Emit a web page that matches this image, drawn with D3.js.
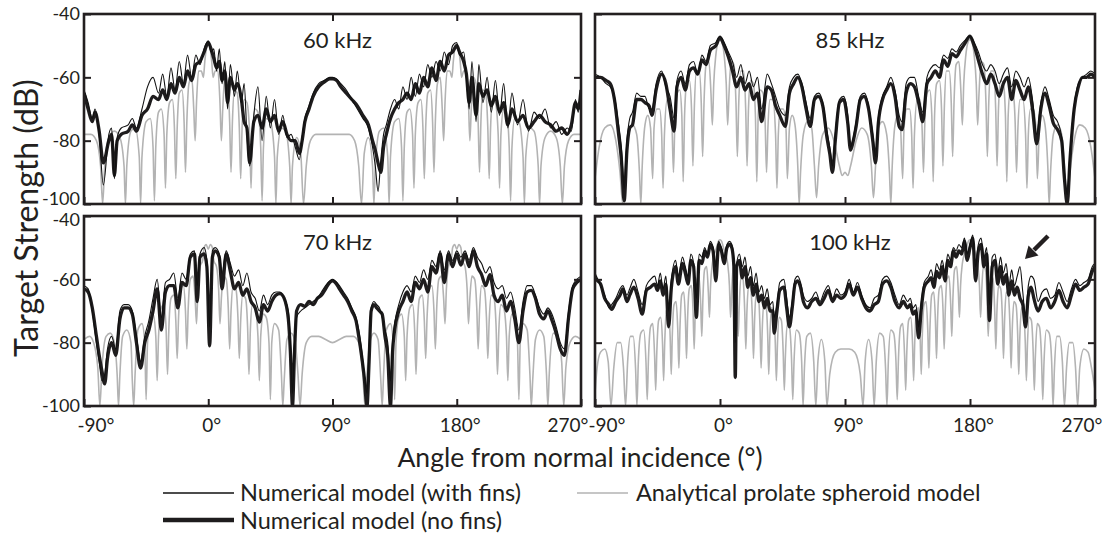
<!DOCTYPE html>
<html><head><meta charset="utf-8">
<script src="https://cdn.jsdelivr.net/npm/d3@7"></script>
<style>body{margin:0;background:#fff;}</style>
</head><body><svg id="c" width="1107" height="537"></svg>
<script>
// ---------------- DATA ----------------
const xTickValues = [-90, 0, 90, 180, 270];
const xTickLabels = ["-90°", "0°", "90°", "180°", "270°"];
const yTickValues = [-40, -60, -80, -100];
const panelTitles = ["60 kHz", "85 kHz", "70 kHz", "100 kHz"];
const legendLabels = ["Numerical model (with fins)", "Numerical model (no fins)", "Analytical prolate spheroid model"];
const xTitle = "Angle from normal incidence (°)";
const yTitle = "Target Strength (dB)";

// 60 kHz
const a60 = [-90,-87,-84,-82,-79,-76,-72,-70,-68,-66,
 -63,-58,-55,-52,-48,-44,-40,-36,-33,-30,
 -27,-24,-21,-18,-15,-12,-9,-6,-3,0,
 2,4,6,8,10,12,14,16,19,21,
 24,26,28,30,33,36,39,42,45,48,
 51,54,57,60,63,66,68,70,73,76,
 80,84,88,90,93,96,100,104,108,112,
 116,119,121,123,125,127,129,132,135,138,
 141,144,147,150,153,156,159,162,165,168,
 171,174,177,180,182,185,187,189,191,194,
 196,199,202,205,208,211,214,217,220,224,
 228,232,236,240,244,248,252,256,260,263,
 266,268,270];
const thick60 = [-65,-70,-74,-71,-77,-87,-80,-78,-91,-80,
 -78,-77,-75,-77,-72,-70,-66,-67,-64,-67,
 -62,-65,-60,-63,-58,-61,-56,-55,-52,-49,
 -51,-54,-57,-55,-61,-58,-68,-60,-64,-62,
 -67,-74,-76,-87,-74,-72,-76,-70,-74,-72,
 -77,-74,-78,-80,-80,-84,-80,-74,-70,-66,
 -63,-61.5,-60.5,-60.5,-61,-63,-65,-67,-69,-72,
 -75,-80,-83,-87,-90,-82,-78,-73,-70,-68,
 -67,-65,-67,-62,-65,-60,-63,-57,-61,-55,
 -58,-53,-52,-50,-52,-55,-59,-68,-60,-72,
 -62,-66,-64,-69,-66,-71,-68,-75,-70,-74,
 -72,-76,-74,-72,-74,-75,-77,-76,-78,-75,
 -68,-70,-64];
const thin60 = [-64,-68,-73,-70,-78,-94,-78,-76,-92,-79,
 -76,-75,-73,-76,-70,-63,-60,-65,-59,-66,
 -57,-64,-55,-62,-53,-60,-53,-56,-51,-48.5,
 -52,-51,-58,-51,-62,-55,-70,-56,-66,-58,
 -68,-62,-78,-88,-72,-63,-80,-66,-76,-67,
 -78,-72,-79,-78,-82,-86,-79,-73,-69,-65,
 -62,-61,-60,-60,-60.5,-62,-64,-67,-70,-73,
 -76,-82,-88,-96,-86,-78,-75,-70,-67,-70,
 -63,-67,-60,-66,-59,-63,-56,-60,-55,-58,
 -52,-56,-50,-49,-53,-52,-60,-70,-55,-74,
 -56,-68,-60,-71,-61,-72,-62,-76,-65,-75,
 -67,-77,-71,-73,-70,-76,-74,-78,-76,-77,
 -67,-71,-63];
const gray60 = [[-90,-78],[-85,-78],[-81,-80],[-78,-88],[-76.5,-100],[-75,-88],[-72,-79],[-68,-77],[-64,-79],[-61,-88],[-60,-100],[-59,-88],[-56,-77],[-53,-76],[-50,-85],[-49,-100],[-48,-85],[-45,-74],[-42,-73],[-40,-82],[-39,-99],[-38,-82],[-36,-71],[-34,-70],[-32,-78],[-31,-95],[-30,-78],[-28,-68],[-26,-67],[-24.5,-76],[-23.5,-92],[-22.5,-76],[-21,-65],[-19,-64],[-17.5,-74],[-16.5,-90],[-15.5,-74],[-14,-62],[-12,-60],[-10.5,-70],[-9.5,-80],[-8.5,-68],[-7,-58],[-5,-58],[-3.5,-60],[-2.5,-55],[-1,-50],[0,-49.5],[1,-50],[2.5,-55],[3.5,-60],[5,-58],[7,-58],[8.5,-68],[9.5,-80],[10.5,-70],[12,-60],[14,-62],[15.5,-74],[16.5,-90],[17.5,-74],[19,-64],[21,-65],[22.5,-76],[23.5,-92],[24.5,-76],[26,-67],[28,-68],[30,-78],[31,-95],[32,-78],[34,-70],[36,-71],[38,-82],[39,-99],[40,-82],[42,-73],[45,-74],[48,-85],[49,-100],[50,-85],[53,-76],[56,-77],[59,-88],[60,-100],[61,-88],[64,-79],[67,-84],[69,-100],[71,-88],[74,-80],[78,-78],[90,-78],[102,-78],[106,-80],[109,-88],[111,-100],[113,-84],[116,-79],[119,-88],[120,-100],[121,-88],[124,-77],[127,-76],[130,-85],[131,-100],[132,-85],[135,-74],[138,-73],[140,-82],[141,-99],[142,-82],[144,-71],[146,-70],[148,-78],[149,-95],[150,-78],[152,-68],[154,-67],[155.5,-76],[156.5,-92],[157.5,-76],[159,-65],[161,-64],[162.5,-74],[163.5,-90],[164.5,-74],[166,-62],[168,-60],[169.5,-70],[170.5,-80],[171.5,-68],[173,-58],[175,-58],[176.5,-60],[177.5,-55],[179,-50],[180,-49.5],[181,-50],[182.5,-55],[183.5,-60],[185,-58],[187,-58],[188.5,-68],[189.5,-80],[190.5,-70],[192,-60],[194,-62],[195.5,-74],[196.5,-90],[197.5,-74],[199,-64],[201,-65],[202.5,-76],[203.5,-92],[204.5,-76],[206,-67],[208,-68],[210,-78],[211,-95],[212,-78],[214,-70],[216,-71],[218,-82],[219,-99],[220,-82],[222,-73],[225,-74],[228,-85],[229,-100],[230,-85],[233,-76],[236,-77],[239,-88],[240,-100],[241,-88],[244,-79],[248,-77],[252,-79],[255,-88],[256.5,-100],[258,-88],[261,-80],[265,-78],[270,-78]];

// 85 kHz
const a85 = [-90,-86,-82,-79,-76,-73,-71,-69,-67,-65,
 -63,-60,-57,-54,-51,-49,-46,-42,-39,-36,
 -33,-31,-28,-25,-22,-19,-16,-13,-10,-7,
 -3,0,3,6,9,12,15,18,21,24,
 27,30,34,37,40,43,47,50,53,56,
 59,62,65,68,71,74,77,79,81,83,
 86,89,92,94,96,98,101,104,107,110,
 112,114,117,120,123,126,129,131,134,137,
 140,143,146,149,152,155,158,161,164,167,
 170,173,176,180,183,186,189,192,195,198,
 201,204,207,210,213,216,219,222,225,228,
 231,234,237,240,243,246,248,250,252,255,
 258,261,264,267,270];
const thick85 = [-60,-60,-61,-62,-67,-78,-86,-99,-83,-76,
 -75,-67,-67,-68,-69,-72,-64,-59,-62,-70,
 -77,-63,-60,-64,-58,-57,-59,-54.5,-56,-51.5,
 -50,-47.5,-50,-53.5,-58,-63,-60,-64,-62,-67,
 -65,-74,-63,-64,-69,-72,-75.5,-65,-62,-60,
 -63,-70,-75.5,-67,-66,-69,-79,-84,-90,-80,
 -68,-67,-74.5,-83,-80,-75.5,-67,-66,-70,-80,
 -87,-74.5,-67,-64,-62,-66,-75.5,-76.5,-65,-62,
 -63,-68,-74,-62,-60,-58,-60,-54.5,-56.5,-52.5,
 -53.5,-51.5,-49.5,-47,-50,-54.5,-59,-62,-59,-62,
 -66,-62,-60,-67,-61,-64,-67,-63,-70,-81,
 -70,-65,-69,-74.5,-76.5,-80,-92,-100,-86,-70,
 -63,-60,-60,-59,-60];
const thin85 = [-59,-60,-62,-63,-66,-75,-82,-95,-80,-73,
 -71,-65,-66,-66,-70,-70,-62,-58,-63,-66,
 -73,-61,-58,-62,-56,-55,-59,-53,-55,-50,
 -49,-47,-49,-52,-55,-60,-56,-62,-58,-63,
 -60,-70,-59,-62,-66,-70,-72,-63,-60,-59,
 -62,-68,-73,-66,-65,-68,-77,-82,-88,-78,
 -67,-66,-72,-82,-79,-74,-66,-65,-69,-78,
 -85,-73,-66,-63,-60,-64,-72,-74,-62,-60,
 -60,-66,-71,-60,-57,-56,-57,-53,-54,-51,
 -52,-50,-48.5,-47,-49,-52,-56,-58,-56,-58,
 -62,-59,-57,-63,-58,-60,-63,-60,-67,-78,
 -68,-63,-67,-72,-74,-79,-90,-97,-84,-69,
 -62,-60,-59,-58,-59];
const gray85 = [[-90,-92],[-87,-82],[-83,-76],[-79,-75],[-75,-80],[-72,-90],[-70,-100],[-68,-88],[-66,-78],[-63,-75],[-60,-78],[-58,-90],[-57,-100],[-56,-88],[-54,-75],[-52,-72],[-50,-76],[-48.5,-92],[-47.5,-76],[-45.5,-70],[-43.5,-70],[-42,-78],[-41,-95],[-40,-78],[-38,-67],[-36,-67],[-34.5,-76],[-33.5,-90],[-32.5,-74],[-31,-65],[-29,-64],[-27.5,-72],[-26.5,-93],[-25.5,-72],[-24,-62],[-22,-61],[-20.5,-70],[-19.5,-88],[-18.5,-70],[-17,-58],[-15,-58],[-13.5,-68],[-12.5,-85],[-11.5,-68],[-10,-56],[-8,-55],[-6.5,-65],[-5.5,-75],[-4.5,-62],[-3,-53],[-1.5,-49],[0,-48],[1.5,-49],[3,-53],[4.5,-62],[5.5,-75],[6.5,-65],[8,-55],[10,-56],[11.5,-68],[12.5,-85],[13.5,-68],[15,-58],[17,-58],[18.5,-70],[19.5,-88],[20.5,-70],[22,-61],[24,-62],[25.5,-72],[26.5,-93],[27.5,-72],[29,-64],[31,-65],[32.5,-74],[33.5,-90],[34.5,-76],[36,-67],[38,-67],[40,-78],[41,-95],[42,-78],[43.5,-70],[45.5,-70],[47.5,-76],[48.5,-92],[50,-76],[52,-72],[54,-75],[56,-88],[57,-100],[58,-90],[60,-78],[63,-74],[66,-76],[68,-88],[69.5,-98],[71,-88],[74,-78],[78,-76],[82,-80],[86,-88],[88,-91],[90,-90],[92,-91],[94,-88],[98,-80],[102,-76],[106,-78],[109,-88],[110.5,-98],[112,-88],[114,-76],[117,-74],[120,-78],[122,-90],[123,-100],[124,-88],[126,-75],[128,-72],[130,-76],[131.5,-92],[132.5,-76],[134.5,-70],[136.5,-70],[138,-78],[139,-95],[140,-78],[142,-67],[144,-67],[145.5,-76],[146.5,-90],[147.5,-74],[149,-65],[151,-64],[152.5,-72],[153.5,-93],[154.5,-72],[156,-62],[158,-61],[159.5,-70],[160.5,-88],[161.5,-70],[163,-58],[165,-58],[166.5,-68],[167.5,-85],[168.5,-68],[170,-56],[172,-55],[173.5,-65],[174.5,-75],[175.5,-62],[177,-53],[178.5,-49],[180,-48],[181.5,-49],[183,-53],[184.5,-62],[185.5,-75],[186.5,-65],[188,-55],[190,-56],[191.5,-68],[192.5,-85],[193.5,-68],[195,-58],[197,-58],[198.5,-70],[199.5,-88],[200.5,-70],[202,-61],[204,-62],[205.5,-72],[206.5,-93],[207.5,-72],[209,-64],[211,-65],[212.5,-74],[213.5,-90],[214.5,-76],[216,-67],[218,-67],[220,-78],[221,-95],[222,-78],[223.5,-70],[225.5,-70],[227.5,-76],[228.5,-92],[230,-76],[232,-72],[234,-75],[236,-88],[237,-100],[238,-90],[240,-78],[243,-75],[246,-78],[248,-88],[250,-100],[252,-90],[255,-80],[259,-75],[263,-76],[267,-82],[270,-92]];

// 70 kHz
const a70 = [-90,-87,-84,-81,-79,-77,-75,-73,-70,-67,
 -64,-61,-58,-55,-52,-49,-46,-43,-40,-37,
 -34,-31,-28,-25,-22,-19,-16,-13,-10,-8,
 -6,-3,-1,1,3,5,8,10,13,16,
 19,22,25,28,31,34,37,40,43,46,
 49,52,55,58,59.5,61,62.5,64,67,70,
 73,76,79,82,85,88,90,92,95,98,
 101,104,107,109,111,113,115,116.5,118,120,
 122,124,126,128,130,132,133.5,135,138,141,
 144,147,150,153,156,159,162,165,168,171,
 174,177,180,183,186,189,192,195,198,201,
 204,207,210,213,216,219,222,225,228,231,
 234,237,240,243,246,249,252,255,258,261,
 264,267,270];
const thick70 = [-63,-64,-69,-78,-84,-89,-93,-85,-80,-84,
 -72.5,-69,-69,-71,-80,-88,-80,-76,-70,-63,
 -76,-64,-62,-62,-69,-61,-62,-53,-52,-67,
 -53,-52,-56,-81,-53,-51,-53,-63,-52,-57.5,
 -63,-61,-65,-63,-67,-69,-73.5,-68,-70,-67,
 -65,-64.5,-66,-72.5,-83,-100,-83,-70,-68,-68.5,
 -67,-68,-66,-65,-63,-61,-60.5,-61,-63,-65,
 -67,-70,-73,-78,-84,-91,-100,-86,-70,-68,
 -69,-70,-71,-78,-84,-100,-83,-76,-70,-67,
 -64,-67,-61,-63,-60,-64,-56,-58,-52,-61,
 -52,-56,-52,-55.5,-52,-56,-51,-56,-58.5,-62,
 -58.5,-65,-67,-65,-70,-67,-72.5,-80,-70,-64,
 -63.5,-66,-71,-72.5,-70,-73,-77,-82,-84,-72,
 -63,-61,-60];
const thin70 = [-62,-63,-70,-80,-86,-92,-90,-82,-78,-82,
 -70,-68,-68,-70,-78,-86,-78,-73,-66,-60,
 -72,-61,-60,-58,-66,-58,-60,-52,-51,-62,
 -52,-50,-54,-75,-51,-50,-52,-58,-51,-55,
 -59,-57,-62,-58,-64,-66,-70,-65,-68,-65,
 -64,-64,-66,-70,-80,-96,-80,-72,-70,-69,
 -68,-67,-66,-64,-62,-60.5,-60,-60.5,-62,-64,
 -66,-69,-72,-76,-82,-90,-96,-82,-69,-67,
 -68,-69,-72,-76,-80,-92,-80,-74,-68,-64,
 -62,-64,-59,-61,-57,-60,-54,-56,-51,-57,
 -51,-54,-51,-53,-51,-54,-50,-53,-55,-58,
 -56,-61,-63,-62,-66,-64,-69,-76,-67,-62,
 -62,-65,-69,-71,-69,-71,-75,-80,-82,-70,
 -62,-60,-59];
const gray70 = [[-90,-79],[-86,-78],[-83,-80],[-80,-88],[-78.5,-100],[-77,-88],[-74,-78],[-71,-77],[-68,-80],[-66,-90],[-65,-100],[-64,-90],[-62,-78],[-59,-76],[-56,-80],[-55,-92],[-54,-100],[-53,-90],[-51,-76],[-48,-74],[-46,-80],[-45,-98],[-44,-80],[-42,-72],[-40,-71],[-38,-78],[-37,-92],[-36,-78],[-34,-69],[-32,-68],[-30.5,-76],[-29.5,-90],[-28.5,-75],[-27,-66],[-25,-65],[-23.5,-73],[-22.5,-85],[-21.5,-72],[-20,-63],[-18,-62],[-16.5,-70],[-15.5,-82],[-14.5,-69],[-13,-60],[-11,-59],[-9.5,-66],[-8.5,-74],[-7.5,-63],[-6,-56],[-4,-54],[-3,-50],[-1.5,-49],[0,-50.5],[1.5,-49],[3,-50],[4,-54],[6,-56],[7.5,-63],[8.5,-74],[9.5,-66],[11,-59],[13,-60],[14.5,-69],[15.5,-82],[16.5,-70],[18,-62],[20,-63],[21.5,-72],[22.5,-85],[23.5,-73],[25,-65],[27,-66],[28.5,-75],[29.5,-90],[30.5,-76],[32,-68],[34,-69],[36,-78],[37,-92],[38,-78],[40,-71],[42,-72],[44,-80],[45,-98],[46,-80],[48,-74],[51,-76],[53,-90],[54,-100],[55,-92],[57,-79],[60,-77],[63,-80],[65,-90],[66.5,-100],[68,-90],[71,-80],[75,-78],[80,-78],[85,-79],[90,-80],[95,-79],[100,-78],[105,-78],[109,-80],[112,-90],[113.5,-100],[115,-90],[117,-80],[120,-77],[123,-79],[125,-92],[126,-100],[127,-90],[129,-76],[132,-74],[134,-80],[135,-98],[136,-80],[138,-72],[140,-71],[142,-78],[143,-92],[144,-78],[146,-69],[148,-68],[149.5,-76],[150.5,-90],[151.5,-75],[153,-66],[155,-65],[156.5,-73],[157.5,-85],[158.5,-72],[160,-63],[162,-62],[163.5,-70],[164.5,-82],[165.5,-69],[167,-60],[169,-59],[170.5,-66],[171.5,-74],[172.5,-63],[174,-56],[176,-54],[177,-50],[178.5,-49],[180,-50.5],[181.5,-49],[183,-50],[184,-54],[186,-56],[187.5,-63],[188.5,-74],[189.5,-66],[191,-59],[193,-60],[194.5,-69],[195.5,-82],[196.5,-70],[198,-62],[200,-63],[201.5,-72],[202.5,-85],[203.5,-73],[205,-65],[207,-66],[208.5,-75],[209.5,-90],[210.5,-76],[212,-68],[214,-69],[216,-78],[217,-92],[218,-78],[220,-71],[222,-72],[224,-80],[225,-98],[226,-80],[228,-74],[231,-76],[233,-90],[234,-100],[235,-92],[237,-79],[240,-76],[243,-78],[245,-90],[246,-100],[247,-90],[250,-77],[253,-78],[256,-86],[257.5,-100],[259,-88],[262,-80],[266,-78],[270,-79]];

// 100 kHz
const a100 = [-90,-88,-86,-83,-80,-78,-75,-72,-70,-67,
 -65,-62,-59,-56,-53,-50,-47,-45,-43,-41,
 -39,-37,-35,-32,-30,-27,-25,-23,-21,-19,
 -17,-15,-13,-11,-9,-7,-5,-3,-1,1,
 3,5,7,8.5,10,11,12,14,16,18,
 20,22,24,26,28,30,32,34,36,38,
 39,41,43,46,48,50,52,54,56,58,
 60,63,66,69,72,75,78,81,84,87,
 90,93,96,99,102,105,108,111,114,117,
 120,123,126,129,132,135,137,139,141,143,
 145,147,150,152,154,156,158,160,162,164,
 166,168,170,172,174,176,178,180,182,184,
 186,188,190,192,194,196,198,200,202,204,
 206,208,210,212,214,216,218,220,222,224,
 226,229,232,235,238,241,244,247,250,253,
 256,259,262,265,268,270];
const thick100 = [-59.5,-60.5,-61.5,-66,-68,-69.5,-67,-65,-63,-67,
 -65,-62.5,-66,-71,-63.5,-62.5,-61.5,-63.5,-60.5,-65,
 -61.5,-75,-62.5,-56,-61.5,-55,-58,-61.5,-54,-56,
 -72,-54,-55,-51,-53,-49,-51,-60.5,-49,-51,
 -55,-50,-49,-50,-56,-91,-56,-54,-59.5,-56,
 -62.5,-59.5,-65,-61.5,-67,-65,-69,-66,-70,-70,
 -77,-70,-63.5,-62.5,-69,-75,-69,-61.5,-60.5,-62.5,
 -67,-69,-67,-66,-68,-66,-63.5,-67,-65,-66,
 -65,-61.5,-65,-62.5,-66,-69,-70,-68,-67,-61.5,
 -60.5,-62.5,-67,-69,-67,-69,-68,-71,-70,-78.5,
 -69,-62.5,-60.5,-59.5,-62.5,-57.5,-59.5,-56,-60.5,-54,
 -56,-51,-53,-51,-52,-48,-54,-50,-47,-60.5,
 -51,-49,-56,-52,-73,-56,-54,-61.5,-56,-61.5,
 -58.5,-65,-60.5,-65,-62.5,-66,-68,-75,-65,-62.5,
 -66,-70,-67,-66,-69,-67,-63.5,-67,-69,-65,
 -61.5,-63.5,-62.5,-61.5,-57.5,-56];
const thin100 = [-58,-60,-62,-65,-69,-68,-66,-63,-62,-65,
 -63,-60,-64,-68,-62,-60,-59,-62,-58,-63,
 -59,-70,-60,-54,-59,-53,-56,-59,-52,-55,
 -66,-52,-53,-50,-52,-48,-50,-56,-48,-50,
 -53,-49,-48,-49,-54,-80,-55,-52,-56,-53,
 -59,-56,-62,-58,-64,-62,-66,-63,-68,-67,
 -72,-68,-61,-60,-66,-72,-67,-60,-59,-61,
 -65,-67,-66,-64,-67,-64,-62,-66,-63,-65,
 -64,-60,-64,-61,-65,-68,-69,-66,-65,-60,
 -59,-61,-65,-68,-65,-67,-66,-69,-68,-75,
 -67,-61,-59,-57,-60,-55,-57,-54,-58,-52,
 -54,-50,-51,-49,-50,-47,-52,-49,-46,-56,
 -49,-47,-53,-50,-68,-53,-52,-58,-53,-58,
 -55,-62,-57,-62,-59,-56,-64,-72,-62,-59,
 -60,-67,-64,-63,-66,-65,-61,-64,-67,-63,
 -60,-62,-61,-60,-56,-55];
const gray100 = [[-90,-96],[-88.5,-88],[-86,-83],[-83,-82],[-80.5,-86],[-78.5,-100],[-76.5,-88],[-74,-80],[-71.5,-80],[-69.5,-88],[-68,-100],[-66.5,-86],[-64.5,-78],[-62.5,-78],[-60.8,-88],[-59.8,-100],[-58.8,-86],[-57,-77],[-55,-76],[-53.3,-86],[-52.4,-98],[-51.5,-85],[-50,-75],[-48.4,-74],[-47.1,-84],[-46.3,-95],[-45.5,-83],[-44.2,-73],[-42.7,-72],[-41.4,-80],[-40.6,-92],[-39.8,-80],[-38.6,-70],[-37.1,-69],[-35.9,-78],[-35.1,-90],[-34.3,-77],[-33.1,-68],[-31.6,-67],[-30.4,-76],[-29.6,-88],[-28.8,-75],[-27.6,-65],[-26.1,-64],[-24.9,-73],[-24.1,-85],[-23.3,-72],[-22.1,-63],[-20.6,-62],[-19.4,-70],[-18.6,-82],[-17.8,-70],[-16.6,-60],[-15.1,-59],[-13.9,-68],[-13.1,-78],[-12.3,-66],[-11.1,-57],[-9.6,-56],[-8.4,-64],[-7.6,-72],[-6.8,-62],[-5.5,-55],[-4,-52],[-2.5,-50],[-1.2,-48],[0,-47.5],[1.2,-48],[2.5,-50],[4,-52],[5.5,-55],[6.8,-62],[7.6,-72],[8.4,-64],[9.6,-56],[11.1,-57],[12.3,-66],[13.1,-78],[13.9,-68],[15.1,-59],[16.6,-60],[17.8,-70],[18.6,-82],[19.4,-70],[20.6,-62],[22.1,-63],[23.3,-72],[24.1,-85],[24.9,-73],[26.1,-64],[27.6,-65],[28.8,-75],[29.6,-88],[30.4,-76],[31.6,-67],[33.1,-68],[34.3,-77],[35.1,-90],[35.9,-78],[37.1,-69],[38.6,-70],[39.8,-80],[40.6,-92],[41.4,-80],[42.7,-72],[44.2,-73],[45.5,-83],[46.3,-95],[47.1,-84],[48.4,-74],[50,-75],[51.5,-85],[52.4,-98],[53.3,-86],[55,-76],[57,-77],[58.8,-86],[59.8,-100],[60.8,-88],[62.5,-78],[65,-77],[67.5,-86],[69,-100],[70.5,-86],[73,-79],[75.5,-86],[77,-100],[79,-90],[83,-83],[87,-82],[90,-82],[93,-82],[97,-83],[101,-90],[103,-100],[104.5,-86],[107,-79],[109.5,-86],[111,-100],[112.5,-86],[115,-77],[117.5,-78],[119.2,-88],[120.2,-100],[121.2,-86],[123,-76],[125,-77],[126.7,-86],[127.6,-98],[128.5,-85],[130,-75],[131.6,-74],[132.9,-84],[133.7,-95],[134.5,-83],[135.8,-73],[137.3,-72],[138.6,-80],[139.4,-92],[140.2,-80],[141.4,-70],[142.9,-69],[144.1,-78],[144.9,-90],[145.7,-77],[146.9,-68],[148.4,-67],[149.6,-76],[150.4,-88],[151.2,-75],[152.4,-65],[153.9,-64],[155.1,-73],[155.9,-85],[156.7,-72],[157.9,-63],[159.4,-62],[160.6,-70],[161.4,-82],[162.2,-70],[163.4,-60],[164.9,-59],[166.1,-68],[166.9,-78],[167.7,-66],[168.9,-57],[170.4,-56],[171.6,-64],[172.4,-72],[173.2,-62],[174.5,-55],[176,-52],[177.5,-50],[178.8,-48],[180,-47.5],[181.2,-48],[182.5,-50],[184,-52],[185.5,-55],[186.8,-62],[187.6,-72],[188.4,-64],[189.6,-56],[191.1,-57],[192.3,-66],[193.1,-78],[193.9,-68],[195.1,-59],[196.6,-60],[197.8,-70],[198.6,-82],[199.4,-70],[200.6,-62],[202.1,-63],[203.3,-72],[204.1,-85],[204.9,-73],[206.1,-64],[207.6,-65],[208.8,-75],[209.6,-88],[210.4,-76],[211.6,-67],[213.1,-68],[214.3,-77],[215.1,-90],[215.9,-78],[217.1,-69],[218.6,-70],[219.8,-80],[220.6,-92],[221.4,-80],[222.7,-72],[224.2,-73],[225.5,-83],[226.3,-95],[227.1,-84],[228.4,-74],[230,-75],[231.5,-85],[232.4,-98],[233.3,-86],[235,-76],[237,-77],[238.8,-86],[239.8,-100],[240.8,-88],[242.5,-78],[244.5,-78],[246.5,-86],[248,-100],[249.5,-88],[251.5,-80],[254,-80],[256,-88],[257.5,-100],[259,-88],[262,-82],[265,-83],[267.5,-88],[270,-95]];

// ---------------- LAYOUT / STYLE ----------------
const ink = "#231f20";
const fontFam = "Lato, 'Open Sans', 'DejaVu Sans', sans-serif";
const panels = [
  {title: panelTitles[0], a: a60,  thick: thick60,  thin: thin60,  gray: gray60,  x0: 84,  x1: 581,  y0: 14,  y1: 204, left: true,  bottom: false, top: true},
  {title: panelTitles[1], a: a85,  thick: thick85,  thin: thin85,  gray: gray85,  x0: 595, x1: 1095, y0: 14,  y1: 204, left: false, bottom: false, top: true},
  {title: panelTitles[2], a: a70,  thick: thick70,  thin: thin70,  gray: gray70,  x0: 84,  x1: 581,  y0: 216, y1: 406, left: true,  bottom: true, top: false},
  {title: panelTitles[3], a: a100, thick: thick100, thin: thin100, gray: gray100, x0: 595, x1: 1095, y0: 216, y1: 406, left: false, bottom: true, top: false}
];

const svg = d3.select("#c");
svg.append("rect").attr("width", 1107).attr("height", 537).attr("fill", "#fff");
const defs = svg.append("defs");

function styleAxis(g, size) {
  g.attr("font-family", fontFam).attr("font-size", size);
  g.select(".domain").remove();
  g.selectAll(".tick line").attr("stroke", ink).attr("stroke-width", 2);
  g.selectAll(".tick text").attr("fill", ink);
}

panels.forEach((p, i) => {
  const x = d3.scaleLinear().domain([-90, 270]).range([p.x0, p.x1]);
  const y = d3.scaleLinear().domain([-100, -40]).range([p.y1, p.y0]);
  const cid = "clip" + i;
  defs.append("clipPath").attr("id", cid).append("rect")
    .attr("x", p.x0).attr("y", p.y0).attr("width", p.x1 - p.x0).attr("height", p.y1 - p.y0);

  const line = d3.line().x(d => x(d[0])).y(d => y(d[1])).curve(d3.curveMonotoneX);
  const plot = svg.append("g").attr("clip-path", `url(#${cid})`);
  plot.append("path").datum(p.gray).attr("d", line)
    .attr("fill", "none").attr("stroke", "#b3b3b3").attr("stroke-width", 1.6);
  plot.append("path").datum(d3.zip(p.a, p.thick)).attr("d", line)
    .attr("fill", "none").attr("stroke", "#1e1c1d").attr("stroke-width", 3.3).attr("stroke-linejoin", "round");
  plot.append("path").datum(d3.zip(p.a, p.thin)).attr("d", line)
    .attr("fill", "none").attr("stroke", "#111").attr("stroke-width", 1.1);

  // axes
  const bx = svg.append("g").attr("transform", `translate(0,${p.y1})`)
    .call(d3.axisBottom(x).tickValues(xTickValues).tickSizeInner(-7).tickSizeOuter(0).tickPadding(13)
      .tickFormat((d) => p.bottom ? xTickLabels[xTickValues.indexOf(d)] : ""));
  styleAxis(bx, 19);
  bx.selectAll(".tick text").attr("dx", 3);
  bx.selectAll(".tick").filter(d => d === -90).select("text").attr("text-anchor", "start").attr("dx", -7);
  bx.selectAll(".tick").filter(d => d === 270).select("text").attr("text-anchor", "end").attr("dx", 7);

  const tx = svg.append("g").attr("transform", `translate(0,${p.y0})`)
    .call(d3.axisTop(x).tickValues([0, 90, 180]).tickSizeInner(-7).tickSizeOuter(0).tickFormat(""));
  styleAxis(tx, 19);

  const ly = svg.append("g").attr("transform", `translate(${p.x0},0)`)
    .call(d3.axisLeft(y).tickValues(yTickValues).tickSizeInner(-7).tickSizeOuter(0).tickPadding(4)
      .tickFormat(d => p.left ? String(d) : ""));
  styleAxis(ly, 18);
  // keep the stacked -100 / -40 labels apart where the panels meet
  if (p.top) ly.selectAll(".tick").filter(d => d === -100).select("text").attr("dy", "0.05em");
  else ly.selectAll(".tick").filter(d => d === -40).select("text").attr("dy", "0.55em");

  const ry = svg.append("g").attr("transform", `translate(${p.x1},0)`)
    .call(d3.axisRight(y).tickValues([-60, -80]).tickSizeInner(-7).tickSizeOuter(0).tickFormat(""));
  styleAxis(ry, 19);

  svg.append("rect").attr("x", p.x0).attr("y", p.y0).attr("width", p.x1 - p.x0).attr("height", p.y1 - p.y0)
    .attr("fill", "none").attr("stroke", ink).attr("stroke-width", 2.6);

  svg.append("text").attr("x", x(90) + 5).attr("y", p.y0 + 34)
    .attr("text-anchor", "middle").attr("font-family", fontFam).attr("font-size", 22).attr("fill", ink)
    .text(p.title);
});

// arrow in 100 kHz panel
svg.append("line").attr("x1", 1048).attr("y1", 236).attr("x2", 1034).attr("y2", 250)
  .attr("stroke", ink).attr("stroke-width", 4.5);
svg.append("polygon").attr("points", "1025,259 1038.5,255.5 1028.5,245.5").attr("fill", ink);

// axis titles
svg.append("text").attr("x", 580).attr("y", 467).attr("text-anchor", "middle")
  .attr("font-family", fontFam).attr("font-size", 26.5).attr("fill", ink).text(xTitle);
svg.append("text").attr("transform", "translate(38,218) rotate(-90)").attr("text-anchor", "middle")
  .attr("font-family", fontFam).attr("font-size", 32).attr("fill", ink).text(yTitle);

// legend
const lg = svg.append("g").attr("font-family", fontFam).attr("font-size", 23.5).attr("fill", ink);
lg.append("line").attr("x1", 163).attr("x2", 234).attr("y1", 493).attr("y2", 493).attr("stroke", "#111").attr("stroke-width", 1.3);
lg.append("text").attr("x", 240).attr("y", 501).text(legendLabels[0]);
lg.append("line").attr("x1", 163).attr("x2", 234).attr("y1", 520).attr("y2", 520).attr("stroke", "#1e1c1d").attr("stroke-width", 4.5);
lg.append("text").attr("x", 240).attr("y", 529).text(legendLabels[1]);
lg.append("line").attr("x1", 577).attr("x2", 628).attr("y1", 493).attr("y2", 493).attr("stroke", "#b3b3b3").attr("stroke-width", 1.6);
lg.append("text").attr("x", 636).attr("y", 501).text(legendLabels[2]);
</script></body></html>
